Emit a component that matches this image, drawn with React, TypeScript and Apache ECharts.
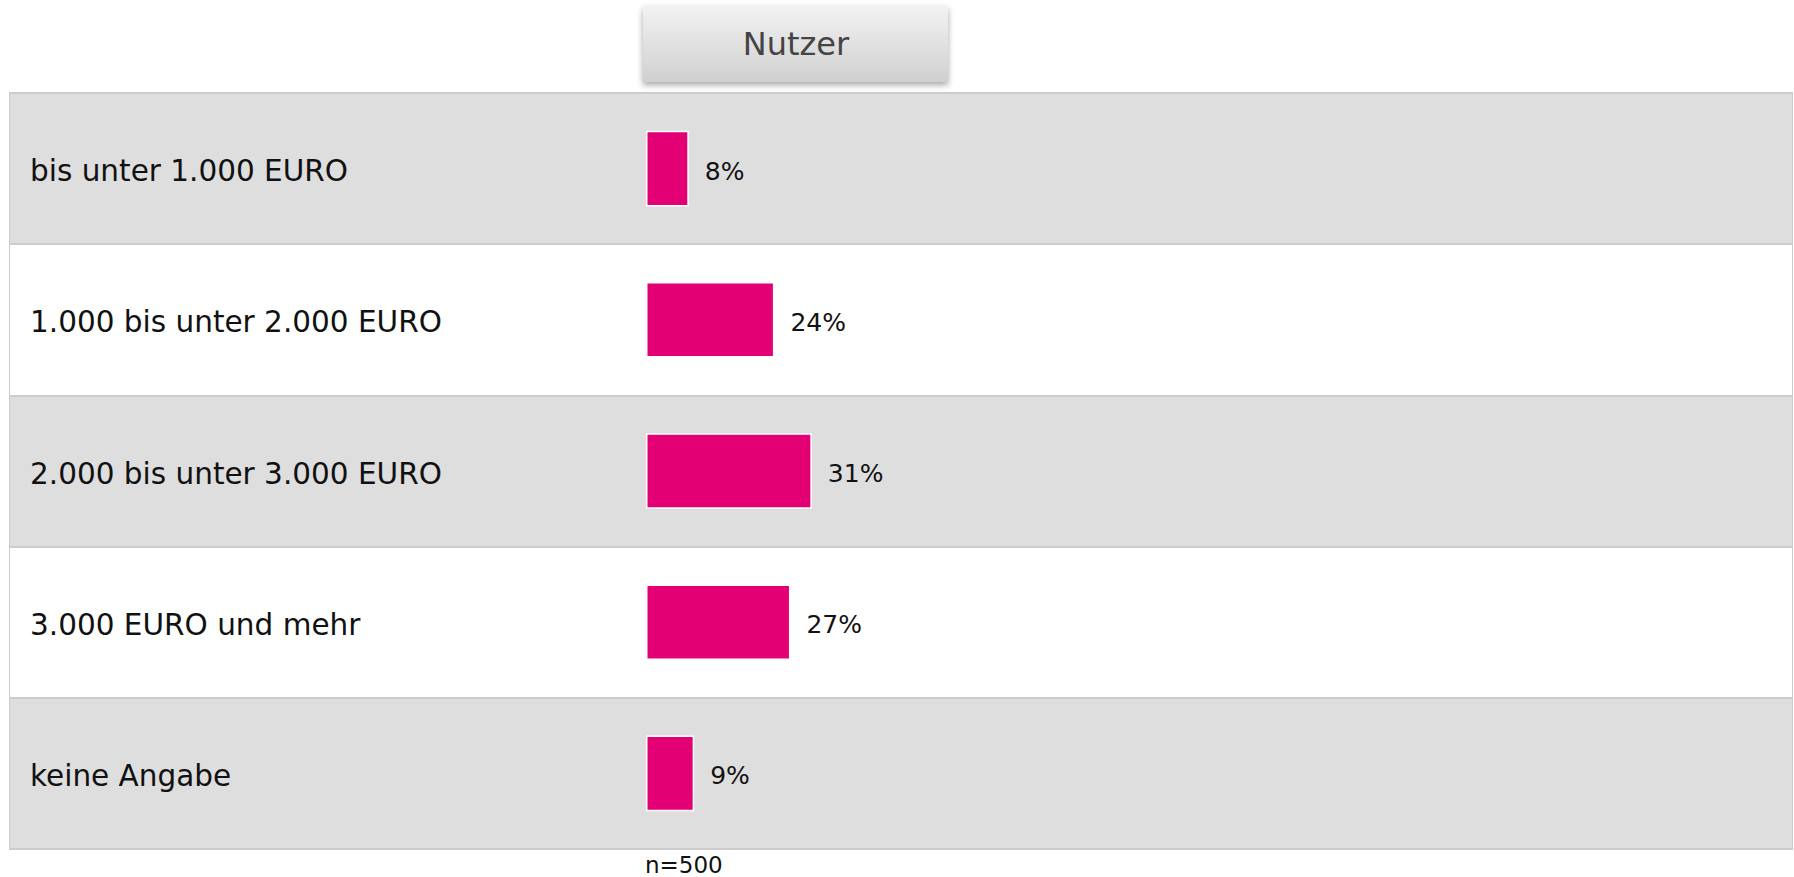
import React, { useEffect, useRef } from "react";
import * as echarts from "echarts";

const categories = [
  "bis unter 1.000 EURO",
  "1.000 bis unter 2.000 EURO",
  "2.000 bis unter 3.000 EURO",
  "3.000 EURO und mehr",
  "keine Angabe",
];
const values = [8, 24, 31, 27, 9];
const seriesName = "Nutzer";
const sampleNote = "n=500";

const FONT = "DejaVu Sans, Verdana, sans-serif";

export default function App() {
  const ref = useRef<HTMLDivElement>(null);

  useEffect(() => {
    if (!ref.current) return;
    const chart = echarts.init(ref.current, undefined, { renderer: "svg" });
    const option: any = {
      animation: false,
      backgroundColor: "#ffffff",
      grid: [
        {
          left: 10,
          top: 93,
          width: 1782,
          height: 756,
          show: true,
          borderColor: "#cccccc",
          borderWidth: 2,
          backgroundColor: "transparent",
        },
        { left: 646, top: 93, width: 535, height: 756 },
      ],
      xAxis: [
        { gridIndex: 0, type: "value", min: 0, max: 1, show: false },
        { gridIndex: 1, type: "value", min: 0, max: 100, show: false },
      ],
      yAxis: [
        {
          gridIndex: 0,
          type: "category",
          data: categories,
          inverse: true,
          axisLine: { show: false },
          axisTick: { show: false },
          axisLabel: {
            inside: true,
            margin: 20,
            fontSize: 29.5,
            color: "#111111",
            fontFamily: FONT,
            formatter: "{a|{value}}",
            rich: {
              a: {
                fontSize: 29.5,
                color: "#111111",
                fontFamily: FONT,
                padding: [5, 0, 0, 0],
              },
            },
          },
          splitLine: { show: true, lineStyle: { color: "#cccccc", width: 2 } },
          splitArea: { show: true, areaStyle: { color: ["#dedede", "#ffffff"] } },
        },
        {
          gridIndex: 1,
          type: "category",
          data: categories,
          inverse: true,
          show: false,
        },
      ],
      series: [
        {
          name: seriesName,
          type: "bar",
          xAxisIndex: 1,
          yAxisIndex: 1,
          data: values,
          barWidth: "50%",
          itemStyle: { color: "#e20074", borderColor: "#ffffff", borderWidth: 1.5 },
          label: {
            show: true,
            position: "right",
            distance: 16,
            offset: [0, 2.5],
            formatter: "{c}%",
            fontSize: 25,
            color: "#111111",
            fontFamily: FONT,
          },
        },
      ],
      graphic: [
        {
          type: "rect",
          left: 643,
          top: 6,
          shape: { width: 305, height: 76 },
          style: {
            fill: {
              type: "linear",
              x: 0,
              y: 0,
              x2: 0,
              y2: 1,
              colorStops: [
                { offset: 0, color: "#f2f2f2" },
                { offset: 1, color: "#d0d0d0" },
              ],
            },
            shadowBlur: 6,
            shadowColor: "rgba(0,0,0,0.35)",
            shadowOffsetY: 3,
          },
        },
        {
          type: "text",
          x: 796,
          y: 44,
          style: {
            text: seriesName,
            fontSize: 32,
            fontFamily: FONT,
            fill: "#444444",
            align: "center",
            verticalAlign: "middle",
          },
        },
        {
          type: "text",
          x: 645,
          y: 865,
          style: {
            text: sampleNote,
            fontSize: 23,
            lineHeight: 22,
            fontFamily: FONT,
            fill: "#111111",
            align: "left",
            verticalAlign: "middle",
          },
        },
      ],
    };
    chart.setOption(option);
    return () => chart.dispose();
  }, []);

  return (
    <div
      ref={ref}
      style={{ position: "absolute", left: 0, top: 0, width: 1794, height: 877 }}
    />
  );
}
